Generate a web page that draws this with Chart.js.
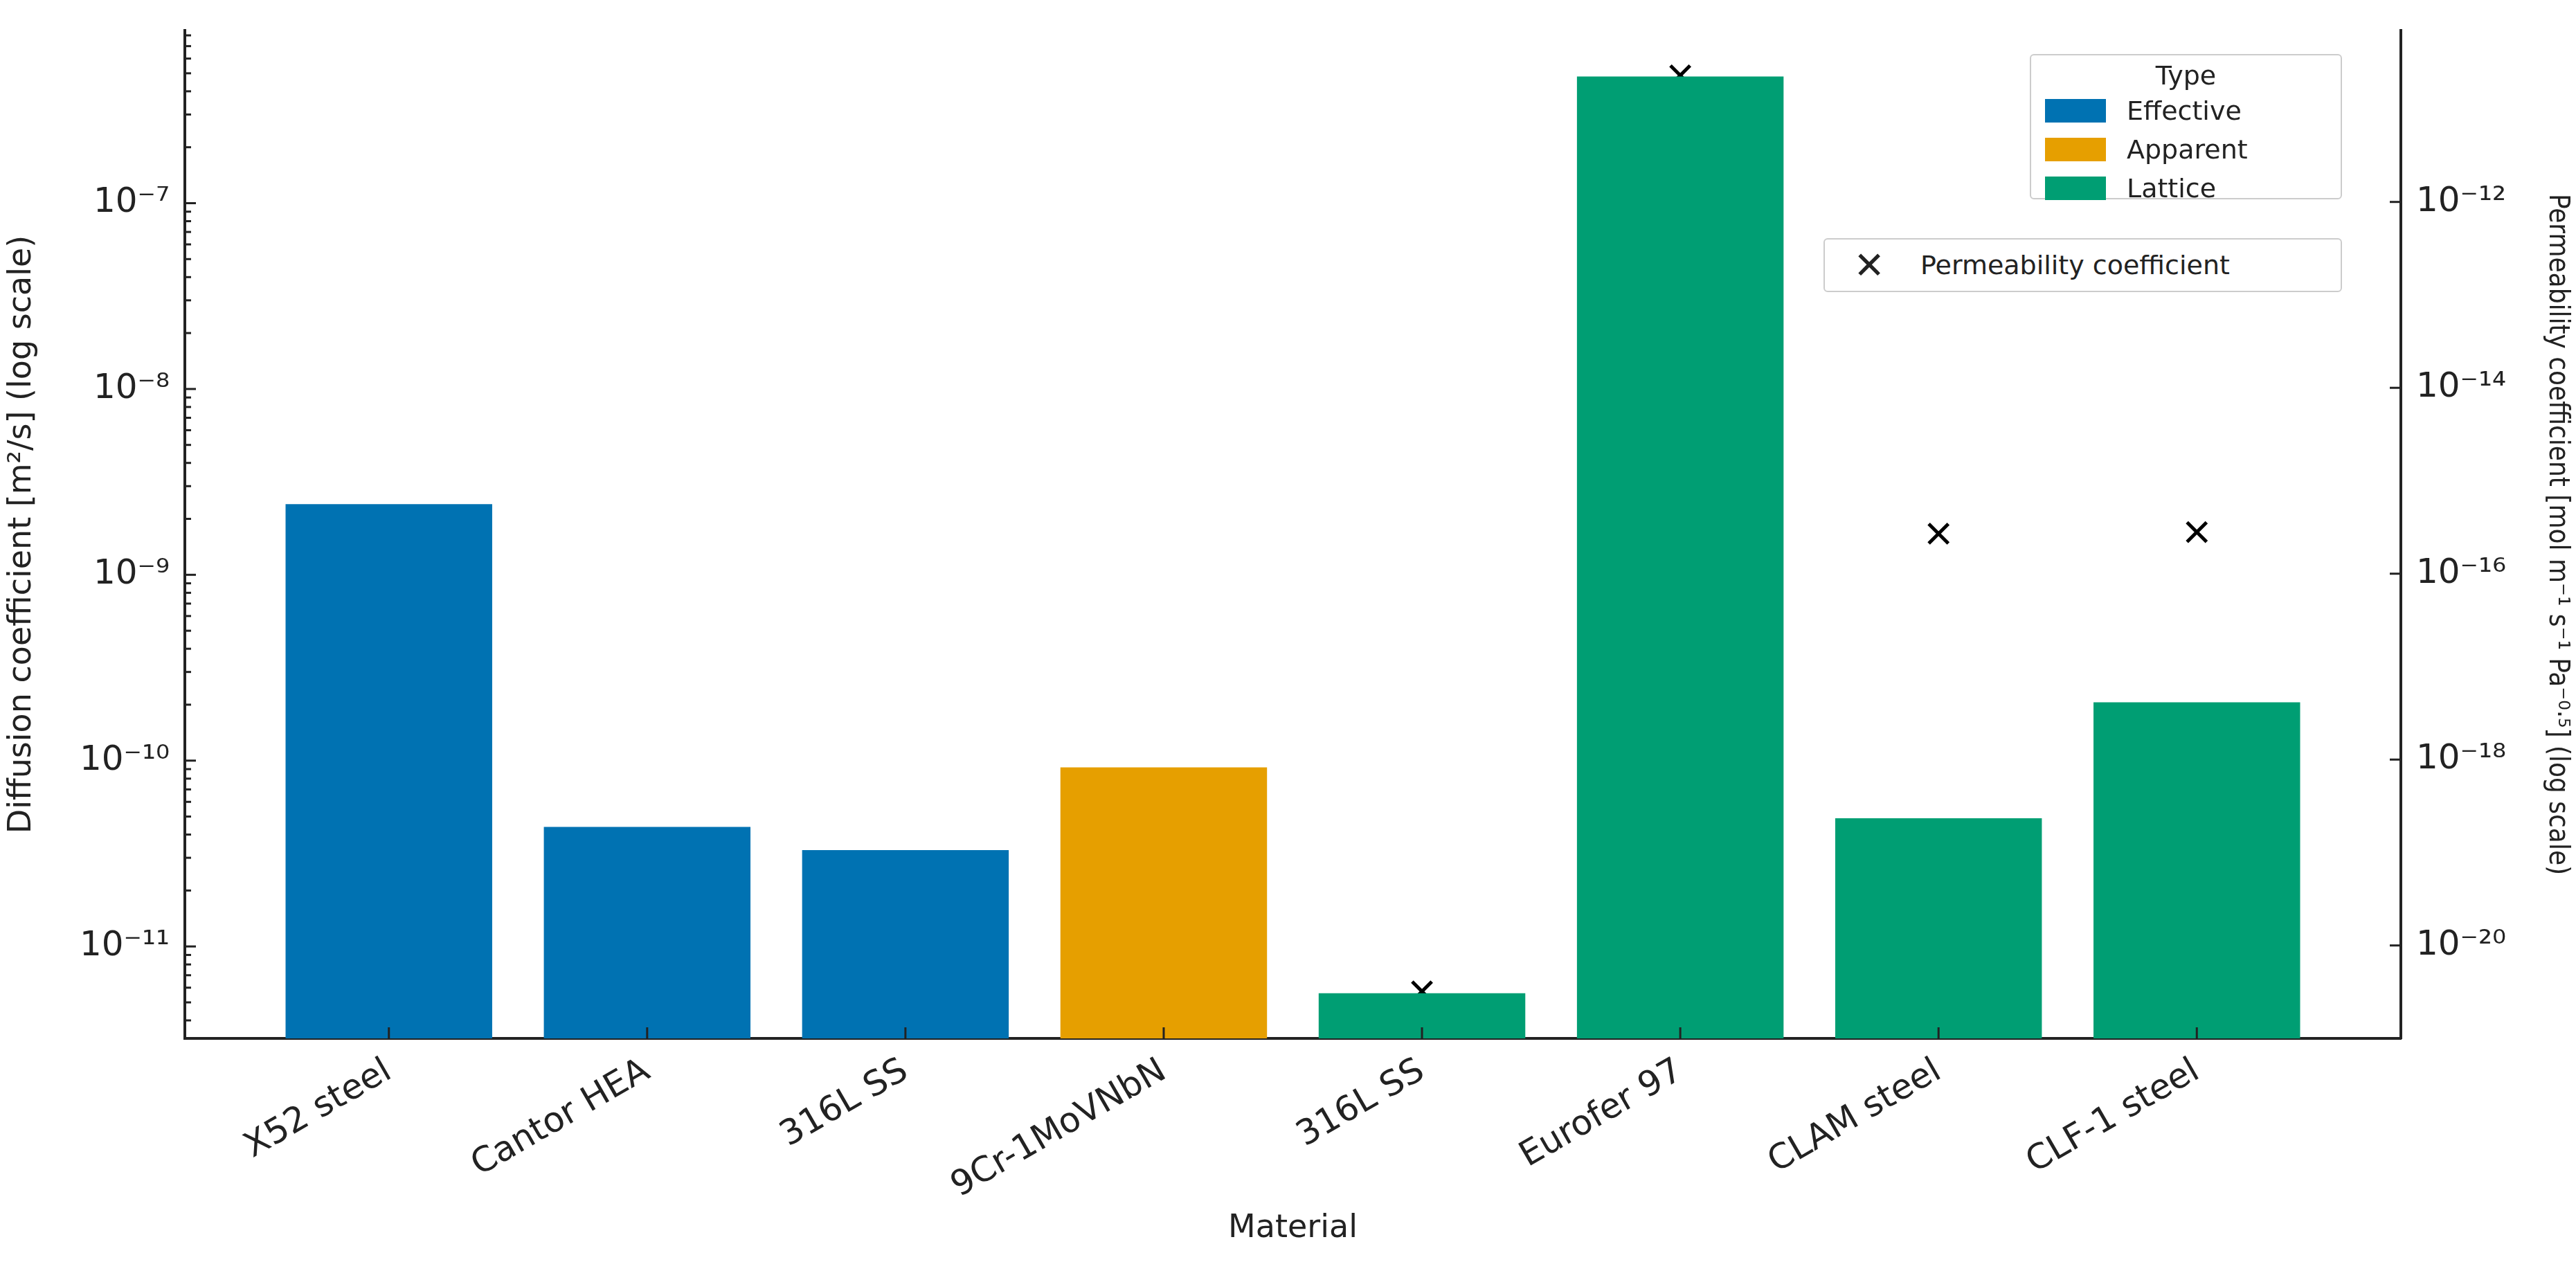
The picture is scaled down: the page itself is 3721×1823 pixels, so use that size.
<!DOCTYPE html>
<html>
<head>
<meta charset="utf-8">
<script src="https://cdn.jsdelivr.net/npm/chart.js@4.4.1/dist/chart.umd.min.js"></script>
<style>
  body { margin: 0; background: #fff; font-family: "DejaVu Sans", sans-serif; }
  #wrap { position: relative; width: 3721px; height: 1823px; }
  .box { position: absolute; background: #fff; border: 2px solid #ccc; border-radius: 6px; font-size: 38px; color: #222; box-sizing: border-box; }
  .row { display: flex; align-items: center; height: 56px; padding-left: 20px; white-space: nowrap; }
  .sw { width: 88px; height: 34px; margin-right: 30px; flex-shrink: 0; }
</style>
</head>
<body>
<div id="wrap">
  <canvas id="c" width="3721" height="1823"></canvas>
  <div class="box" style="left:2932px;top:78px;width:451px;height:210px;">
    <div style="text-align:center;height:52px;line-height:58px;">Type</div>
    <div class="row"><div class="sw" style="background:#0072B2"></div>Effective</div>
    <div class="row"><div class="sw" style="background:#E69F00"></div>Apparent</div>
    <div class="row"><div class="sw" style="background:#009E73"></div>Lattice</div>
  </div>
  <div class="box" style="left:2634px;top:344px;width:749px;height:78px;">
    <div class="row" style="height:74px;"><span style="font-size:54px;width:88px;text-align:center;margin-right:30px;flex-shrink:0;">✕</span>Permeability coefficient</div>
  </div>
</div>
<script>
// data
const materials = ['X52 steel', 'Cantor HEA', '316L SS', '9Cr-1MoVNbN', '316L SS', 'Eurofer 97', 'CLAM steel', 'CLF-1 steel'];
const types = ['Effective', 'Effective', 'Effective', 'Apparent', 'Lattice', 'Lattice', 'Lattice', 'Lattice'];
const diffusion = [2.4e-9, 4.4e-11, 3.3e-11, 9.2e-11, 5.6e-12, 4.8e-7, 4.9e-11, 2.06e-10];
const permeability = [null, null, null, null, 3.2e-21, 2.3e-11, 2.7e-16, 2.8e-16];
const leftTicks = [1e-11, 1e-10, 1e-9, 1e-8, 1e-7];
const rightTicks = [1e-20, 1e-18, 1e-16, 1e-14, 1e-12];

const typeColors = { Effective: '#0072B2', Apparent: '#E69F00', Lattice: '#009E73' };

function sup(v) {
  const e = Math.round(Math.log10(v));
  const map = { '-': '\u207B', '0': '\u2070', '1': '\u00B9', '2': '\u00B2', '3': '\u00B3', '4': '\u2074', '5': '\u2075', '6': '\u2076', '7': '\u2077', '8': '\u2078', '9': '\u2079' };
  return '10' + String(e).split('').map(c => map[c]).join('');
}

// inward tick marks like matplotlib, minor ticks on the left log axis
const inTicks = {
  id: 'inTicks',
  afterDatasetsDraw(chart) {
    const { ctx, chartArea: a, scales } = chart;
    ctx.save();
    ctx.strokeStyle = '#222';
    ctx.lineWidth = 3;
    const line = (x1, y1, x2, y2) => { ctx.beginPath(); ctx.moveTo(x1, y1); ctx.lineTo(x2, y2); ctx.stroke(); };
    materials.forEach((m, i) => { const x = scales.x.getPixelForValue(i); line(x, a.bottom, x, a.bottom - 16); });
    for (let e = -12; e <= -7; e++) {
      for (let k = 1; k <= 9; k++) {
        const v = k * Math.pow(10, e);
        if (v < scales.y.min || v > scales.y.max) continue;
        const y = scales.y.getPixelForValue(v);
        line(a.left, y, a.left + (k === 1 ? 16 : 9), y);
      }
    }
    rightTicks.forEach(v => { const y = scales.y2.getPixelForValue(v); line(a.right, y, a.right - 16, y); });
    ctx.restore();
  }
};

const tickFont = { family: 'DejaVu Sans', size: 50 };
const titleFont = { family: 'DejaVu Sans', size: 46 };

new Chart(document.getElementById('c'), {
  data: {
    datasets: [{
      type: 'bar',
      label: 'Diffusion coefficient',
      data: diffusion.map((v, i) => ({ x: i, y: v })),
      backgroundColor: types.map(t => typeColors[t]),
      barPercentage: 0.8,
      categoryPercentage: 1,
      yAxisID: 'y'
    }, {
      type: 'scatter',
      label: 'Permeability coefficient',
      data: permeability.map((v, i) => ({ x: i, y: v })).filter(p => p.y !== null),
      pointStyle: 'crossRot',
      pointRadius: 20,
      borderWidth: 5,
      borderColor: '#000',
      yAxisID: 'y2'
    }]
  },
  options: {
    responsive: false,
    devicePixelRatio: 1,
    animation: false,
    layout: { padding: { top: 28, right: 0, left: 0, bottom: 0 } },
    plugins: { legend: { display: false }, tooltip: { enabled: false } },
    scales: {
      x: {
        type: 'linear',
        offset: false,
        min: -0.79, max: 7.79,
        afterBuildTicks: s => { s.ticks = materials.map((m, i) => ({ value: i })); },
        afterFit: s => { s.height = 323; },
        ticks: { callback: v => materials[v], font: tickFont, color: '#222', minRotation: 30, maxRotation: 30, autoSkip: false, padding: 10 },
        grid: { display: false },
        border: { color: '#222', width: 4 },
        title: { display: true, text: 'Material', font: titleFont, color: '#222', padding: { top: 0, bottom: 20 } }
      },
      y: {
        type: 'logarithmic', position: 'left',
        min: 3.2e-12, max: 8.5e-7,
        afterBuildTicks: s => { s.ticks = leftTicks.map(v => ({ value: v })); },
        afterFit: s => { s.width = 267; },
        ticks: { callback: v => sup(v), font: tickFont, color: '#222', padding: 14 },
        grid: { display: false },
        border: { color: '#222', width: 4 },
        title: { display: true, text: 'Diffusion coefficient [m\u00B2/s] (log scale)', font: titleFont, color: '#222' }
      },
      y2: {
        type: 'logarithmic', position: 'right',
        min: 1e-21, max: 7e-11,
        afterBuildTicks: s => { s.ticks = rightTicks.map(v => ({ value: v })); },
        afterFit: s => { s.width = 253; },
        ticks: { callback: v => sup(v), font: tickFont, color: '#222', padding: 14 },
        grid: { display: false },
        border: { color: '#222', width: 4 },
        title: { display: true, text: 'Permeability coefficient [mol m\u207B\u00B9 s\u207B\u00B9 Pa\u207B\u2070\u00B7\u2075] (log scale)', font: { family: 'DejaVu Sans Condensed', size: 40 }, color: '#222' }
      }
    }
  },
  plugins: [inTicks]
});
</script>
</body>
</html>
